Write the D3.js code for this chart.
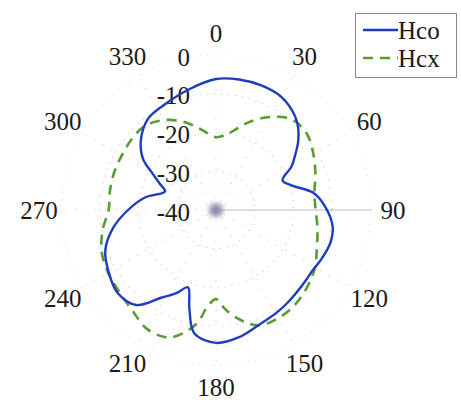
<!DOCTYPE html>
<html>
<head>
<meta charset="utf-8">
<script src="https://cdn.jsdelivr.net/npm/d3@7"></script>
<style>
  body { margin: 0; background: #fff; }
  text { font-family: "Liberation Serif", "Times New Roman", serif; fill: #1a1a1a; }
</style>
</head>
<body>
<div id="chart"></div>
<script>
// angles in degrees (clockwise from top), gain in dB
const hcoAngles = [0, 10, 20, 30, 40, 45, 50, 55, 60, 66, 72, 80, 88, 98, 106, 115, 122, 130, 142, 150, 160, 170, 180, 190, 195, 200, 205, 212, 220, 230, 240, 250, 260, 270, 280, 290, 295, 300, 305, 313, 323, 333, 348];
const hcoDb = [-6.2, -5.8, -5.8, -6.3, -8.3, -10, -12.3, -15, -17.5, -21.2, -19.5, -14.5, -11.9, -9.6, -9.3, -10, -10.6, -10.5, -9.8, -9.2, -8.3, -6.6, -5.7, -7.7, -13.5, -18.8, -16.5, -13.3, -8, -6.8, -8, -9.6, -13, -17.3, -21.4, -26, -24, -21, -17, -13.5, -10.7, -9.8, -8];

const hcxAngles = [0, 10, 20, 30, 40, 50, 60, 70, 80, 90, 100, 110, 120, 130, 140, 150, 160, 170, 175, 180, 185, 190, 200, 210, 220, 230, 240, 250, 260, 270, 280, 290, 300, 310, 320, 330, 340, 350];
const hcxDb = [-21.2, -19.8, -16, -12.3, -9.5, -9.4, -11, -12.7, -14.2, -14.3, -13.4, -12.3, -10.5, -9.2, -8.2, -7.8, -8.3, -12, -14.5, -17, -15, -10, -5, -4.5, -6.3, -7.3, -7.8, -8.6, -10.3, -12.3, -12.2, -12, -11.9, -11.6, -11.6, -13.2, -15.8, -19];

const radialTicks = [0, -10, -20, -30, -40];
const angleTicks = [0, 30, 60, 90, 120, 150, 180, 210, 240, 270, 300, 330];
const seriesNames = ["Hco", "Hcx"];

const width = 461, height = 413;
const cx = 216, cy = 210;

const svg = d3.select("#chart")
  .append("svg")
  .attr("width", width)
  .attr("height", height);

const r = d3.scaleLinear().domain([-40, 0]).range([0, 155]);
const rad = d => d * Math.PI / 180;

const defs = svg.append("defs");
defs.append("filter").attr("id", "blur")
  .append("feGaussianBlur").attr("stdDeviation", 2.5);

const g = svg.append("g").attr("transform", `translate(${cx},${cy})`);

// grid circles
g.append("g")
  .selectAll("circle")
  .data(radialTicks.filter(d => d > -40))
  .join("circle")
    .attr("r", d => r(d))
    .attr("fill", "none")
    .attr("stroke", d => d === 0 ? "#e2e2e2" : "#c8c8c8")
    .attr("stroke-width", 1.2)
    .attr("stroke-dasharray", "1,6");

// spokes
g.append("g")
  .selectAll("line")
  .data(angleTicks)
  .join("line")
    .attr("x1", 0).attr("y1", 0)
    .attr("x2", d => r(0) * Math.sin(rad(d)))
    .attr("y2", d => -r(0) * Math.cos(rad(d)))
    .attr("stroke", d => d === 90 ? "#b4b4b4" : "#d0d0d0")
    .attr("stroke-width", d => d === 90 ? 0.9 : 1.2)
    .attr("stroke-dasharray", d => d === 90 ? null : "1,9");

// center blob
g.append("circle")
  .attr("r", 7)
  .attr("fill", "#8e8ead")
  .attr("filter", "url(#blur)");

// radial labels
g.append("g")
  .selectAll("text")
  .data(radialTicks)
  .join("text")
    .attr("x", -26)
    .attr("y", d => -r(d) + 2)
    .attr("text-anchor", "end")
    .attr("dominant-baseline", "central")
    .attr("font-size", 25)
    .text(d => d);

// angle labels
const labelR = 177;
g.append("g")
  .selectAll("text")
  .data(angleTicks)
  .join("text")
    .attr("x", d => labelR * Math.sin(rad(d)))
    .attr("y", d => -labelR * Math.cos(rad(d)))
    .attr("text-anchor", "middle")
    .attr("dominant-baseline", "central")
    .attr("font-size", 25)
    .text(d => d);

const line = d3.lineRadial()
  .angle(d => rad(d[0]))
  .radius(d => r(d[1]))
  .curve(d3.curveCatmullRomClosed.alpha(0.5));

const hco = d3.zip(hcoAngles, hcoDb);
const hcx = d3.zip(hcxAngles, hcxDb);

g.append("path")
  .datum(hcx)
  .attr("d", line)
  .attr("fill", "none")
  .attr("stroke", "#5a9a36")
  .attr("stroke-width", 2.6)
  .attr("stroke-dasharray", "10,7");

g.append("path")
  .datum(hco)
  .attr("d", line)
  .attr("fill", "none")
  .attr("stroke", "#1f3cbc")
  .attr("stroke-width", 2.4);

// legend
const legend = svg.append("g");
legend.append("rect")
  .attr("x", 355.5).attr("y", 13.5)
  .attr("width", 101).attr("height", 64)
  .attr("fill", "#fff")
  .attr("stroke", "#8a8a8a")
  .attr("stroke-width", 1);

const legendRows = legend.selectAll("g")
  .data(seriesNames)
  .join("g")
    .attr("transform", (d, i) => `translate(0,${30 + i * 28})`);

legendRows.append("line")
  .attr("x1", 363).attr("x2", 398)
  .attr("y1", 0).attr("y2", 0)
  .attr("stroke", (d, i) => i === 0 ? "#1f3cbc" : "#5a9a36")
  .attr("stroke-width", 2.6)
  .attr("stroke-dasharray", (d, i) => i === 0 ? null : "10,7");

legendRows.append("text")
  .attr("x", 398)
  .attr("y", 0)
  .attr("dominant-baseline", "central")
  .attr("font-size", 25)
  .text(d => d);
</script>
</body>
</html>
